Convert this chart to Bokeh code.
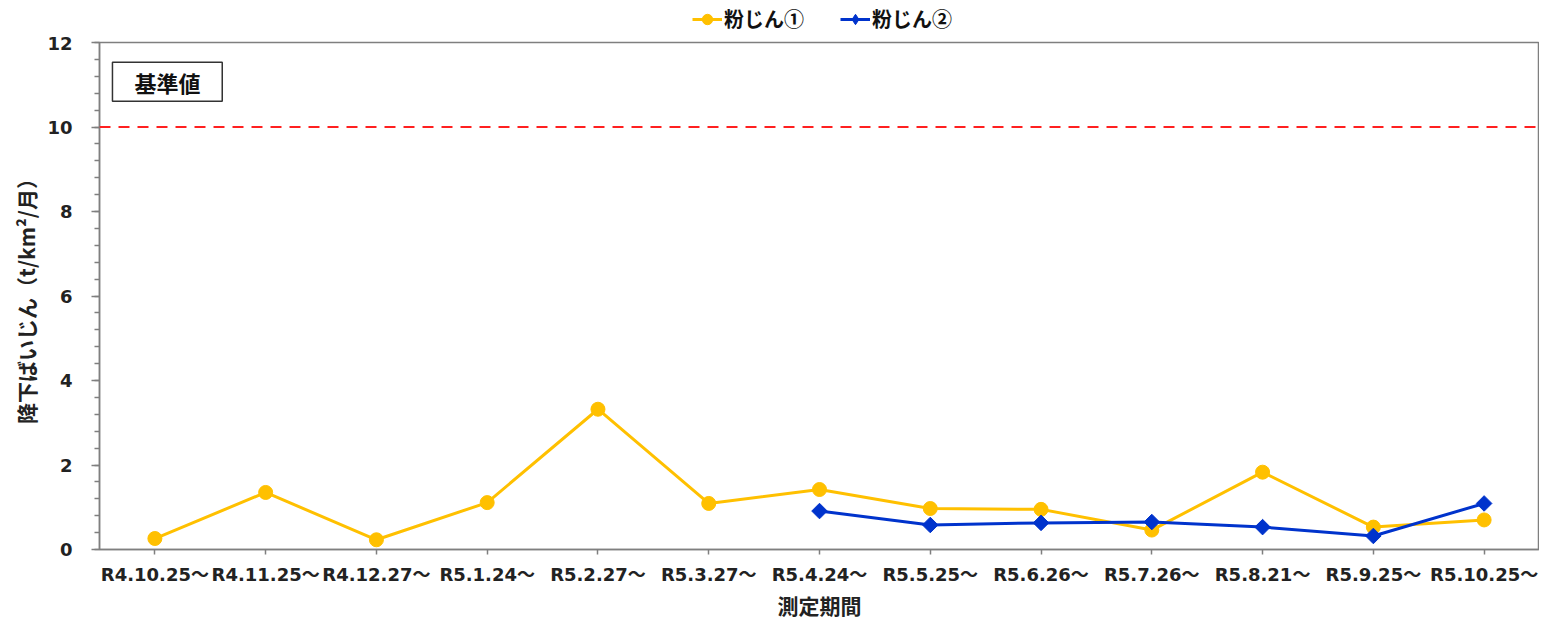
import math
from bokeh.plotting import figure
from bokeh.layouts import column
from bokeh.models import (FactorRange, Range1d, Span, BoxAnnotation, Label, Legend,
                          LegendItem, FixedTicker)
from bokeh.embed import file_html
from bokeh.resources import INLINE

periods = ["R4.10.25～", "R4.11.25～", "R4.12.27～", "R5.1.24～", "R5.2.27～",
           "R5.3.27～", "R5.4.24～", "R5.5.25～", "R5.6.26～", "R5.7.26～",
           "R5.8.21～", "R5.9.25～", "R5.10.25～"]
dust1 = [0.26, 1.35, 0.23, 1.11, 3.32, 1.09, 1.42, 0.97, 0.95, 0.46, 1.83, 0.53, 0.70]
dust2_periods = periods[6:]
dust2 = [0.91, 0.58, 0.63, 0.65, 0.53, 0.32, 1.09]
series_names = ["粉じん①", "粉じん②"]
standard_value = 10
y_ticks = [0, 2, 4, 6, 8, 10, 12]

FONT = "DejaVu Sans, Noto Sans CJK JP"
JFONT = "Noto Sans CJK JP"
GRAY = "#7f7f7f"
YELLOW = "#FFC000"
BLUE = "#0033CC"
W = 1539
LEG_H = 36
LEFT = 99

# ---------- legend strip (above the plot) ----------
# the series are drawn here too, but outside the visible y range, so that only
# the legend samples show
lg = figure(width=W, height=LEG_H, x_range=FactorRange(factors=periods, range_padding=0),
            y_range=Range1d(100, 101),
            output_backend="svg", toolbar_location=None,
            min_border_left=LEFT, min_border_right=0, min_border_top=0, min_border_bottom=0)
lg.axis.visible = False
lg.grid.visible = False
lg.outline_line_color = None
lg.background_fill_color = "white"
lg.border_fill_color = "white"
ll1 = lg.line(periods, dust1, line_color=YELLOW, line_width=3)
ls1 = lg.scatter(periods, dust1, marker="circle", size=10, fill_color=YELLOW, line_color=YELLOW)
ll2 = lg.line(dust2_periods, dust2, line_color=BLUE, line_width=3)
ls2 = lg.scatter(dust2_periods, dust2, marker="diamond", size=13, fill_color=BLUE, line_color=BLUE)
legend = Legend(items=[LegendItem(label=series_names[0], renderers=[ll1, ls1]),
                       LegendItem(label=series_names[1], renderers=[ll2, ls2])],
                location=(593, 3), orientation="horizontal",
                label_text_font=JFONT, label_text_font_style="bold",
                label_text_font_size="20px", label_text_color="#111111",
                glyph_width=30, glyph_height=26, label_standoff=2, spacing=36,
                padding=0, margin=0, border_line_color=None,
                background_fill_alpha=0)
lg.add_layout(legend, "center")

# ---------- main plot ----------
p = figure(x_range=FactorRange(factors=periods, range_padding=0),
           y_range=Range1d(0, 12),
           width=W, height=626 - LEG_H,
           output_backend="svg", toolbar_location=None,
           min_border_left=LEFT, min_border_right=0, min_border_top=6, min_border_bottom=77)
p.background_fill_color = "white"
p.border_fill_color = "white"
p.outline_line_color = GRAY
p.outline_line_width = 1.5
p.xgrid.visible = False
p.ygrid.visible = False

p.yaxis.ticker = FixedTicker(ticks=y_ticks, minor_ticks=[i * 0.4 for i in range(31)])
for ax in (p.xaxis[0], p.yaxis[0]):
    ax.axis_line_color = GRAY
    ax.axis_line_width = 1.5
    ax.major_tick_line_color = GRAY
    ax.major_tick_line_width = 1.5
    ax.minor_tick_line_color = GRAY
    ax.minor_tick_line_width = 1.5
    ax.major_tick_in = 0
    ax.minor_tick_in = 0
    ax.major_label_text_font = FONT
    ax.major_label_text_font_style = "bold"
    ax.major_label_text_font_size = "18px"
    ax.major_label_text_color = "#222222"
    ax.axis_label_text_font = JFONT
    ax.axis_label_text_font_style = "bold"
    ax.axis_label_text_color = "#222222"

p.yaxis.major_tick_out = 8
p.yaxis.minor_tick_out = 5
p.yaxis.major_label_standoff = 19
p.yaxis.axis_label = "降下ばいじん（t/km²/月）"
p.yaxis.axis_label_text_font_size = "21px"
p.yaxis.axis_label_standoff = 3

p.xaxis.major_tick_out = 5
p.xaxis.minor_tick_out = 0
p.xaxis.major_label_standoff = 9
p.xaxis.axis_label = "測定期間"
p.xaxis.axis_label_text_font_size = "21px"
p.xaxis.axis_label_standoff = 2

p.add_layout(Span(location=standard_value, dimension="width", line_color="#FF2020",
                  line_dash="11 8", line_width=2))
p.add_layout(BoxAnnotation(left=0.117, right=1.108, bottom=10.61, top=11.53,
                           fill_color="white", fill_alpha=1, line_color="#333333",
                           line_width=1.5, line_alpha=1))
p.add_layout(Label(x=0.613, y=11.07, text="基準値", text_align="center",
                   text_baseline="middle", text_font=JFONT, text_font_style="bold",
                   text_font_size="22px", text_color="#111111"))

p.line(periods, dust1, line_color=YELLOW, line_width=3)
p.scatter(periods, dust1, marker="circle", size=14, fill_color=YELLOW, line_color=YELLOW)
p.line(dust2_periods, dust2, line_color=BLUE, line_width=3)
p.scatter(dust2_periods, dust2, marker="square", angle=math.pi / 4, size=11,
          fill_color=BLUE, line_color=BLUE)

layout = column(lg, p, spacing=0)
open("out.html", "w").write(file_html(layout, INLINE))
